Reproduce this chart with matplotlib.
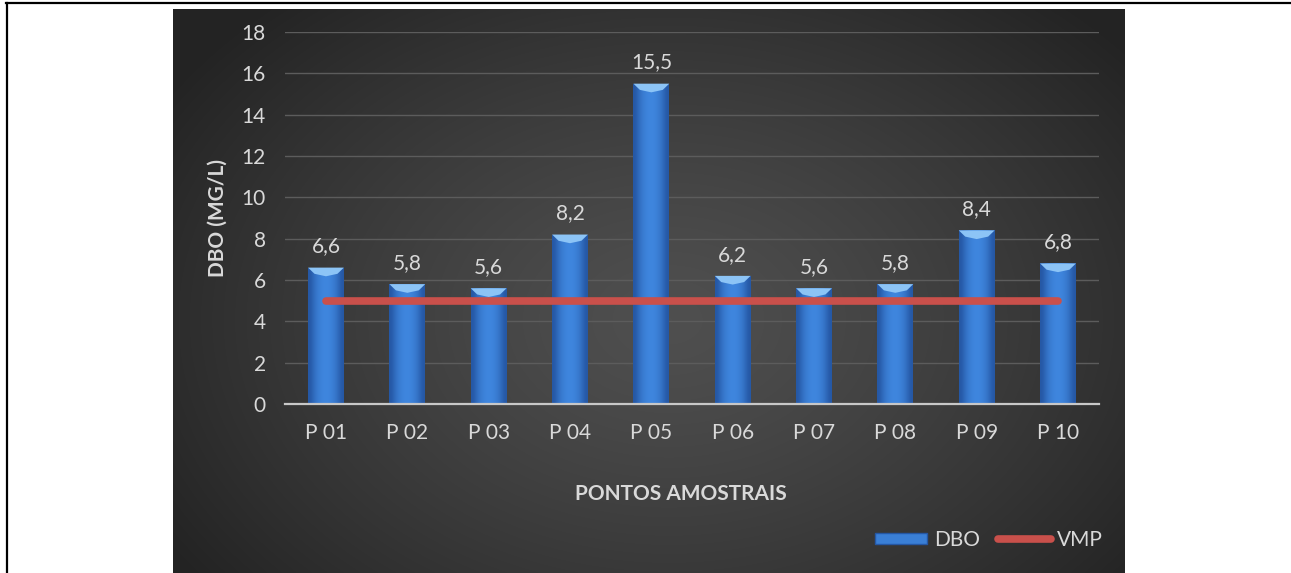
import numpy as np
import matplotlib
matplotlib.use("Agg")
import matplotlib.pyplot as plt
from matplotlib.patches import Rectangle, Polygon
from matplotlib.lines import Line2D
from matplotlib.colors import LinearSegmentedColormap

categories = ["P 01", "P 02", "P 03", "P 04", "P 05", "P 06", "P 07", "P 08", "P 09", "P 10"]
dbo = [6.6, 5.8, 5.6, 8.2, 15.5, 6.2, 5.6, 5.8, 8.4, 6.8]
vmp = [5, 5, 5, 5, 5, 5, 5, 5, 5, 5]
data_labels = ["6,6", "5,8", "5,6", "8,2", "15,5", "6,2", "5,6", "5,8", "8,4", "6,8"]
yticks = [0, 2, 4, 6, 8, 10, 12, 14, 16, 18]

plt.rcParams['font.family'] = ['Lato', 'DejaVu Sans']

W, H = 1291, 573
fig = plt.figure(figsize=(W / 100, H / 100), dpi=100)
fig.patch.set_facecolor("white")

# dark panel with radial gradient
px0, px1, py0 = 173, 1125, 9
bg_ax = fig.add_axes([px0 / W, 0, (px1 - px0) / W, (H - py0) / H])
bg_ax.set_axis_off()
ny, nx = 300, 500
yy, xx = np.mgrid[0:ny, 0:nx]
cx, cy = nx * 0.52, ny * 0.55
r = np.sqrt(((xx - cx) / (nx * 0.62)) ** 2 + ((yy - cy) / (ny * 0.75)) ** 2)
r = np.clip(r, 0, 1)
val = 0.31 - 0.17 * r ** 1.3
img = np.dstack([val, val, val])
bg_ax.imshow(img, aspect="auto", extent=[0, 1, 0, 1], interpolation="bilinear")
bg_ax.set_xlim(0, 1)
bg_ax.set_ylim(0, 1)

# black frame lines (top and left)
fig.add_artist(Line2D([6 / W, 1], [1 - 3 / H, 1 - 3 / H], color="black", lw=1.6, transform=fig.transFigure))
fig.add_artist(Line2D([7 / W, 7 / W], [0, 1 - 3 / H], color="black", lw=1.6, transform=fig.transFigure))

# main axes
left = 285.3 / W
right = 1098.7 / W
bottom = (H - 404) / H
top = (H - 32) / H
ax = fig.add_axes([left, bottom, right - left, top - bottom])
ax.patch.set_alpha(0)
x = np.arange(len(categories))
ax.set_yticks(yticks)
ax.set_yticklabels([str(v) for v in yticks])
ax.set_xticks(x)
ax.set_xticklabels(categories)
ax.yaxis.grid(True, color="#5c5c5c", lw=1.0)
ax.set_axisbelow(True)
for s in ["top", "right", "left"]:
    ax.spines[s].set_visible(False)
ax.spines["bottom"].set_color("#c8c8c8")
ax.spines["bottom"].set_linewidth(1.6)
ax.tick_params(axis="both", length=0, colors="#d9d9d9", labelsize=15)
ax.tick_params(axis="x", pad=14)
ax.tick_params(axis="y", pad=14)

bars = ax.bar(x, dbo, width=0.44, color="#3a7fd6", zorder=2)
grad = np.array([[0.0, 0.55, 0.85, 1.0, 1.0, 0.85, 0.55, 0.0]])
cmap = LinearSegmentedColormap.from_list("b", ["#2557a4", "#3f86de"])
for b in bars:
    x0, w, h = b.get_x(), b.get_width(), b.get_height()
    im = ax.imshow(grad, cmap=cmap, aspect="auto", extent=[x0, x0 + w, 0, h],
                   interpolation="bicubic", zorder=2.1)
    im.set_clip_path(b)
    bev = Polygon([[x0, h], [x0 + w, h], [x0 + w * 0.82, h - 0.3], [x0 + w * 0.5, h - 0.42],
                   [x0 + w * 0.18, h - 0.3]], closed=True, facecolor="#8cc4f6",
                  edgecolor="none", zorder=2.2)
    ax.add_patch(bev)
ax.set_xlim(-0.5, len(categories) - 0.5)
ax.set_ylim(0, 18)

for b, lab in zip(bars, data_labels):
    ax.annotate(lab, (b.get_x() + b.get_width() / 2, b.get_height()), xytext=(0, 8),
                textcoords="offset points", ha="center", va="bottom", color="#d9d9d9", fontsize=15)

ax.plot(x, vmp, color="#c9504b", lw=5.5, solid_capstyle="round", zorder=3)

ax.set_ylabel("DBO (MG/L)", color="#d9d9d9", fontsize=15, fontweight="bold", labelpad=10)
fig.text(681 / W, 1 - 494 / H, "PONTOS AMOSTRAIS", color="#d9d9d9", fontsize=15,
         fontweight="bold", ha="center", va="center")

handles = [Rectangle((0, 0), 1, 1, facecolor="#3a7fd6", edgecolor="#2557a4"),
           Line2D([0], [0], color="#c9504b", lw=5.5, solid_capstyle="round")]
leg = fig.legend(handles, ["DBO", "VMP"], loc="center", bbox_to_anchor=(989 / W, 1 - 540 / H),
                 ncol=2, frameon=False, fontsize=15, handlelength=2.5, handleheight=0.45,
                 columnspacing=0.9, handletextpad=0.3)
for t in leg.get_texts():
    t.set_color("#d9d9d9")

fig.savefig("out.png", dpi=100, facecolor="white")
